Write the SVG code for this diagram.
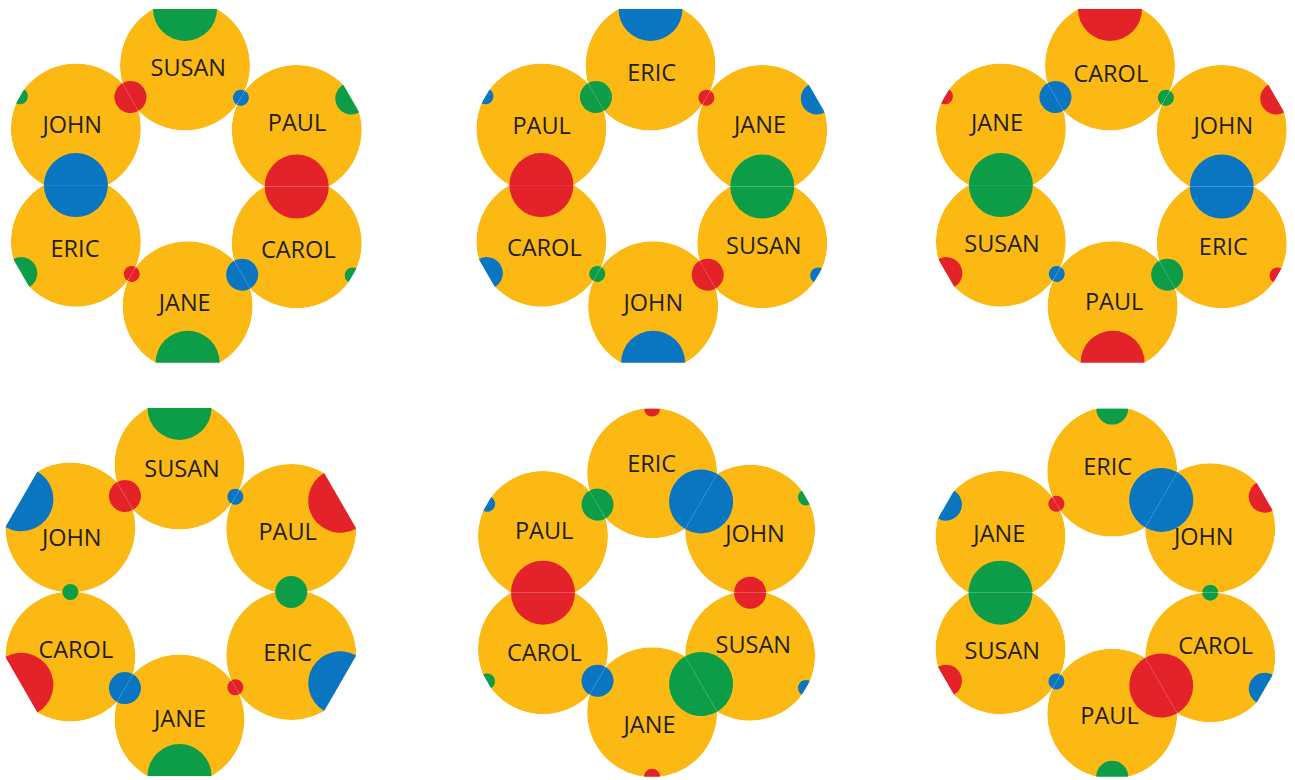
<svg xmlns="http://www.w3.org/2000/svg" width="1295" height="780" viewBox="0 0 1295 780">
<style>
.y{fill:#FDB913}
.r{fill:#E42229}
.g{fill:#0D9D48}
.b{fill:#0A76C1}
text{font-family:"Open Sans","Liberation Sans",sans-serif;font-size:23.5px;fill:#231F20;text-anchor:middle}
</style>
<defs>
<mask id="mA" maskUnits="userSpaceOnUse" x="-70" y="-70" width="140" height="140"><circle r="65" fill="#fff"/><rect transform="rotate(270)" x="56.58" y="-70" width="20" height="140"/><rect transform="rotate(30)" x="64.51" y="-70" width="20" height="140"/><rect transform="rotate(150)" x="63" y="-70" width="20" height="140"/></mask>
<mask id="mB" maskUnits="userSpaceOnUse" x="-70" y="-70" width="140" height="140"><circle r="65" fill="#fff"/><rect transform="rotate(90)" x="56.58" y="-70" width="20" height="140"/><rect transform="rotate(210)" x="64.51" y="-70" width="20" height="140"/><rect transform="rotate(330)" x="63" y="-70" width="20" height="140"/></mask>
<mask id="m4p" maskUnits="userSpaceOnUse" x="-70" y="-70" width="140" height="140"><circle r="65" fill="#fff"/><rect transform="rotate(210)" x="64.51" y="-70" width="20" height="140"/><rect transform="rotate(90)" x="63" y="-70" width="20" height="140"/><rect transform="rotate(330)" x="56.58" y="-70" width="20" height="140"/></mask>
<mask id="m4e" maskUnits="userSpaceOnUse" x="-70" y="-70" width="140" height="140"><circle r="65" fill="#fff"/><rect transform="rotate(270)" x="63" y="-70" width="20" height="140"/><rect transform="rotate(150)" x="64.51" y="-70" width="20" height="140"/><rect transform="rotate(30)" x="56.58" y="-70" width="20" height="140"/></mask>
<mask id="m4j" maskUnits="userSpaceOnUse" x="-70" y="-70" width="140" height="140"><circle r="65" fill="#fff"/><rect transform="rotate(330)" x="64.51" y="-70" width="20" height="140"/><rect transform="rotate(210)" x="63" y="-70" width="20" height="140"/><rect transform="rotate(90)" x="56.58" y="-70" width="20" height="140"/></mask>
<mask id="m4c" maskUnits="userSpaceOnUse" x="-70" y="-70" width="140" height="140"><circle r="65" fill="#fff"/><rect transform="rotate(30)" x="63" y="-70" width="20" height="140"/><rect transform="rotate(270)" x="64.51" y="-70" width="20" height="140"/><rect transform="rotate(150)" x="56.58" y="-70" width="20" height="140"/></mask>
<mask id="m4h" maskUnits="userSpaceOnUse" x="-70" y="-70" width="140" height="140"><circle r="65" fill="#fff"/><rect transform="rotate(90)" x="64.51" y="-70" width="20" height="140"/><rect transform="rotate(330)" x="63" y="-70" width="20" height="140"/><rect transform="rotate(210)" x="56.58" y="-70" width="20" height="140"/></mask>
<mask id="m5e" maskUnits="userSpaceOnUse" x="-70" y="-70" width="140" height="140"><circle r="65" fill="#fff"/><rect transform="rotate(270)" x="64.51" y="-70" width="20" height="140"/><rect transform="rotate(30)" x="56.58" y="-70" width="20" height="140"/><rect transform="rotate(150)" x="63" y="-70" width="20" height="140"/></mask>
<mask id="m5h" maskUnits="userSpaceOnUse" x="-70" y="-70" width="140" height="140"><circle r="65" fill="#fff"/><rect transform="rotate(210)" x="56.58" y="-70" width="20" height="140"/><rect transform="rotate(90)" x="63" y="-70" width="20" height="140"/><rect transform="rotate(330)" x="64.51" y="-70" width="20" height="140"/></mask>
<mask id="m5s" maskUnits="userSpaceOnUse" x="-70" y="-70" width="140" height="140"><circle r="65" fill="#fff"/><rect transform="rotate(270)" x="63" y="-70" width="20" height="140"/><rect transform="rotate(150)" x="56.58" y="-70" width="20" height="140"/><rect transform="rotate(30)" x="64.51" y="-70" width="20" height="140"/></mask>
<mask id="m5j" maskUnits="userSpaceOnUse" x="-70" y="-70" width="140" height="140"><circle r="65" fill="#fff"/><rect transform="rotate(330)" x="56.58" y="-70" width="20" height="140"/><rect transform="rotate(210)" x="63" y="-70" width="20" height="140"/><rect transform="rotate(90)" x="64.51" y="-70" width="20" height="140"/></mask>
<mask id="m5c" maskUnits="userSpaceOnUse" x="-70" y="-70" width="140" height="140"><circle r="65" fill="#fff"/><rect transform="rotate(30)" x="63" y="-70" width="20" height="140"/><rect transform="rotate(270)" x="56.58" y="-70" width="20" height="140"/><rect transform="rotate(150)" x="64.51" y="-70" width="20" height="140"/></mask>
<mask id="m6e" maskUnits="userSpaceOnUse" x="-70" y="-70" width="140" height="140"><circle r="65" fill="#fff"/><rect transform="rotate(150)" x="64.51" y="-70" width="20" height="140"/><rect transform="rotate(30)" x="56.58" y="-70" width="20" height="140"/><rect transform="rotate(270)" x="63" y="-70" width="20" height="140"/></mask>
<mask id="m6h" maskUnits="userSpaceOnUse" x="-70" y="-70" width="140" height="140"><circle r="65" fill="#fff"/><rect transform="rotate(210)" x="56.58" y="-70" width="20" height="140"/><rect transform="rotate(90)" x="64.51" y="-70" width="20" height="140"/><rect transform="rotate(330)" x="63" y="-70" width="20" height="140"/></mask>
<mask id="m6c" maskUnits="userSpaceOnUse" x="-70" y="-70" width="140" height="140"><circle r="65" fill="#fff"/><rect transform="rotate(270)" x="64.51" y="-70" width="20" height="140"/><rect transform="rotate(150)" x="56.58" y="-70" width="20" height="140"/><rect transform="rotate(30)" x="63" y="-70" width="20" height="140"/></mask>
<mask id="m6p" maskUnits="userSpaceOnUse" x="-70" y="-70" width="140" height="140"><circle r="65" fill="#fff"/><rect transform="rotate(330)" x="56.58" y="-70" width="20" height="140"/><rect transform="rotate(210)" x="64.51" y="-70" width="20" height="140"/><rect transform="rotate(90)" x="63" y="-70" width="20" height="140"/></mask>
<mask id="m6j" maskUnits="userSpaceOnUse" x="-70" y="-70" width="140" height="140"><circle r="65" fill="#fff"/><rect transform="rotate(90)" x="56.58" y="-70" width="20" height="140"/><rect transform="rotate(330)" x="64.51" y="-70" width="20" height="140"/><rect transform="rotate(210)" x="63" y="-70" width="20" height="140"/></mask>
</defs>
<rect width="1295" height="780" fill="#fff"/>

<!-- Ring 1 -->
<g id="r1-susan"><g transform="translate(185 65.5)"><g mask="url(#mA)"><circle class="y" r="65"/><circle class="g" r="32" cx="56.58" transform="rotate(270)"/><circle class="b" r="8" cx="64.51" transform="rotate(30)"/><circle class="r" r="16" cx="63" transform="rotate(150)"/></g></g><text x="188.3" y="76">SUSAN</text></g>
<g id="r1-paul"><g transform="translate(296.73 130.01)"><g mask="url(#mB)"><circle class="y" r="65"/><circle class="b" r="8" cx="64.51" transform="rotate(210)"/><circle class="r" r="32" cx="56.58" transform="rotate(90)"/><circle class="g" r="16" cx="63" transform="rotate(330)"/></g></g><text x="297" y="131">PAUL</text></g>
<g id="r1-carol"><g transform="translate(296.73 243.17)"><g mask="url(#mA)"><circle class="y" r="65"/><circle class="r" r="32" cx="56.58" transform="rotate(270)"/><circle class="b" r="16" cx="63" transform="rotate(150)"/><circle class="g" r="8" cx="64.51" transform="rotate(30)"/></g></g><text x="298.3" y="258">CAROL</text></g>
<g id="r1-jane"><g transform="translate(187.61 306.17)"><g mask="url(#mB)"><circle class="y" r="65"/><circle class="b" r="16" cx="63" transform="rotate(330)"/><circle class="r" r="8" cx="64.51" transform="rotate(210)"/><circle class="g" r="32" cx="56.58" transform="rotate(90)"/></g></g><text x="184.7" y="310.5">JANE</text></g>
<g id="r1-eric"><g transform="translate(75.88 241.66)"><g mask="url(#mA)"><circle class="y" r="65"/><circle class="r" r="8" cx="64.51" transform="rotate(30)"/><circle class="b" r="32" cx="56.58" transform="rotate(270)"/><circle class="g" r="16" cx="63" transform="rotate(150)"/></g></g><text x="75" y="256.5">ERIC</text></g>
<g id="r1-john"><g transform="translate(75.88 128.5)"><g mask="url(#mB)"><circle class="y" r="65"/><circle class="b" r="32" cx="56.58" transform="rotate(90)"/><circle class="r" r="16" cx="63" transform="rotate(330)"/><circle class="g" r="8" cx="64.51" transform="rotate(210)"/></g></g><text x="72.2" y="132.8">JOHN</text></g>

<!-- Ring 2 -->
<g id="r2-eric"><g transform="translate(650.5 65.5)"><g mask="url(#mA)"><circle class="y" r="65"/><circle class="b" r="32" cx="56.58" transform="rotate(270)"/><circle class="r" r="8" cx="64.51" transform="rotate(30)"/><circle class="g" r="16" cx="63" transform="rotate(150)"/></g></g><text x="651.7" y="81">ERIC</text></g>
<g id="r2-jane"><g transform="translate(762.23 130.01)"><g mask="url(#mB)"><circle class="y" r="65"/><circle class="r" r="8" cx="64.51" transform="rotate(210)"/><circle class="g" r="32" cx="56.58" transform="rotate(90)"/><circle class="b" r="16" cx="63" transform="rotate(330)"/></g></g><text x="760" y="132.8">JANE</text></g>
<g id="r2-susan"><g transform="translate(762.23 243.17)"><g mask="url(#mA)"><circle class="y" r="65"/><circle class="g" r="32" cx="56.58" transform="rotate(270)"/><circle class="r" r="16" cx="63" transform="rotate(150)"/><circle class="b" r="8" cx="64.51" transform="rotate(30)"/></g></g><text x="763.8" y="253.8">SUSAN</text></g>
<g id="r2-john"><g transform="translate(653.11 306.17)"><g mask="url(#mB)"><circle class="y" r="65"/><circle class="r" r="16" cx="63" transform="rotate(330)"/><circle class="g" r="8" cx="64.51" transform="rotate(210)"/><circle class="b" r="32" cx="56.58" transform="rotate(90)"/></g></g><text x="653.3" y="310.5">JOHN</text></g>
<g id="r2-carol"><g transform="translate(541.38 241.66)"><g mask="url(#mA)"><circle class="y" r="65"/><circle class="g" r="8" cx="64.51" transform="rotate(30)"/><circle class="r" r="32" cx="56.58" transform="rotate(270)"/><circle class="b" r="16" cx="63" transform="rotate(150)"/></g></g><text x="544.3" y="255.5">CAROL</text></g>
<g id="r2-paul"><g transform="translate(541.38 128.5)"><g mask="url(#mB)"><circle class="y" r="65"/><circle class="r" r="32" cx="56.58" transform="rotate(90)"/><circle class="g" r="16" cx="63" transform="rotate(330)"/><circle class="b" r="8" cx="64.51" transform="rotate(210)"/></g></g><text x="541.7" y="133.8">PAUL</text></g>

<!-- Ring 3 -->
<g id="r3-carol"><g transform="translate(1110 65.5)"><g mask="url(#mA)"><circle class="y" r="65"/><circle class="r" r="32" cx="56.58" transform="rotate(270)"/><circle class="g" r="8" cx="64.51" transform="rotate(30)"/><circle class="b" r="16" cx="63" transform="rotate(150)"/></g></g><text x="1110.8" y="81.5">CAROL</text></g>
<g id="r3-john"><g transform="translate(1221.73 130.01)"><g mask="url(#mB)"><circle class="y" r="65"/><circle class="g" r="8" cx="64.51" transform="rotate(210)"/><circle class="b" r="32" cx="56.58" transform="rotate(90)"/><circle class="r" r="16" cx="63" transform="rotate(330)"/></g></g><text x="1223.3" y="133.8">JOHN</text></g>
<g id="r3-eric"><g transform="translate(1221.73 243.17)"><g mask="url(#mA)"><circle class="y" r="65"/><circle class="b" r="32" cx="56.58" transform="rotate(270)"/><circle class="g" r="16" cx="63" transform="rotate(150)"/><circle class="r" r="8" cx="64.51" transform="rotate(30)"/></g></g><text x="1223.3" y="254.5">ERIC</text></g>
<g id="r3-paul"><g transform="translate(1112.61 306.17)"><g mask="url(#mB)"><circle class="y" r="65"/><circle class="g" r="16" cx="63" transform="rotate(330)"/><circle class="b" r="8" cx="64.51" transform="rotate(210)"/><circle class="r" r="32" cx="56.58" transform="rotate(90)"/></g></g><text x="1114.2" y="309.8">PAUL</text></g>
<g id="r3-susan"><g transform="translate(1000.88 241.66)"><g mask="url(#mA)"><circle class="y" r="65"/><circle class="b" r="8" cx="64.51" transform="rotate(30)"/><circle class="g" r="32" cx="56.58" transform="rotate(270)"/><circle class="r" r="16" cx="63" transform="rotate(150)"/></g></g><text x="1002" y="252.2">SUSAN</text></g>
<g id="r3-jane"><g transform="translate(1000.88 128.5)"><g mask="url(#mB)"><circle class="y" r="65"/><circle class="g" r="32" cx="56.58" transform="rotate(90)"/><circle class="b" r="16" cx="63" transform="rotate(330)"/><circle class="r" r="8" cx="64.51" transform="rotate(210)"/></g></g><text x="997" y="130.5">JANE</text></g>

<!-- Ring 4 -->
<g id="r4-susan"><g transform="translate(179.5 464.5)"><g mask="url(#mA)"><circle class="y" r="65"/><circle class="g" r="32" cx="56.58" transform="rotate(270)"/><circle class="b" r="8" cx="64.51" transform="rotate(30)"/><circle class="r" r="16" cx="63" transform="rotate(150)"/></g></g><text x="182" y="476.5">SUSAN</text></g>
<g id="r4-paul"><g transform="translate(291.23 529.01)"><g mask="url(#m4p)"><circle class="y" r="65"/><circle class="b" r="8" cx="64.51" transform="rotate(210)"/><circle class="g" r="16" cx="63" transform="rotate(90)"/><circle class="r" r="32" cx="56.58" transform="rotate(330)"/></g></g><text x="287.7" y="539.8">PAUL</text></g>
<g id="r4-eric"><g transform="translate(291.23 655.01)"><g mask="url(#m4e)"><circle class="y" r="65"/><circle class="g" r="16" cx="63" transform="rotate(270)"/><circle class="r" r="8" cx="64.51" transform="rotate(150)"/><circle class="b" r="32" cx="56.58" transform="rotate(30)"/></g></g><text x="287.7" y="660.5">ERIC</text></g>
<g id="r4-jane"><g transform="translate(179.5 719.52)"><g mask="url(#m4j)"><circle class="y" r="65"/><circle class="r" r="8" cx="64.51" transform="rotate(330)"/><circle class="b" r="16" cx="63" transform="rotate(210)"/><circle class="g" r="32" cx="56.58" transform="rotate(90)"/></g></g><text x="180" y="726.5">JANE</text></g>
<g id="r4-carol"><g transform="translate(70.38 656.52)"><g mask="url(#m4c)"><circle class="y" r="65"/><circle class="b" r="16" cx="63" transform="rotate(30)"/><circle class="g" r="8" cx="64.51" transform="rotate(270)"/><circle class="r" r="32" cx="56.58" transform="rotate(150)"/></g></g><text x="75.8" y="657.8">CAROL</text></g>
<g id="r4-john"><g transform="translate(70.38 527.5)"><g mask="url(#m4h)"><circle class="y" r="65"/><circle class="g" r="8" cx="64.51" transform="rotate(90)"/><circle class="r" r="16" cx="63" transform="rotate(330)"/><circle class="b" r="32" cx="56.58" transform="rotate(210)"/></g></g><text x="71.7" y="546.2">JOHN</text></g>

<!-- Ring 5 -->
<g id="r5-eric"><g transform="translate(652.1 473.1)"><g mask="url(#m5e)"><circle class="y" r="65"/><circle class="r" r="8" cx="64.51" transform="rotate(270)"/><circle class="b" r="32" cx="56.58" transform="rotate(30)"/><circle class="g" r="16" cx="63" transform="rotate(150)"/></g></g><text x="651.7" y="472.2">ERIC</text></g>
<g id="r5-john"><g transform="translate(750.1 529.68)"><g mask="url(#m5h)"><circle class="y" r="65"/><circle class="b" r="32" cx="56.58" transform="rotate(210)"/><circle class="r" r="16" cx="63" transform="rotate(90)"/><circle class="g" r="8" cx="64.51" transform="rotate(330)"/></g></g><text x="755" y="542.2">JOHN</text></g>
<g id="r5-susan"><g transform="translate(750.1 655.68)"><g mask="url(#m5s)"><circle class="y" r="65"/><circle class="r" r="16" cx="63" transform="rotate(270)"/><circle class="g" r="32" cx="56.58" transform="rotate(150)"/><circle class="b" r="8" cx="64.51" transform="rotate(30)"/></g></g><text x="753.3" y="652.8">SUSAN</text></g>
<g id="r5-jane"><g transform="translate(652.1 712.26)"><g mask="url(#m5j)"><circle class="y" r="65"/><circle class="g" r="32" cx="56.58" transform="rotate(330)"/><circle class="b" r="16" cx="63" transform="rotate(210)"/><circle class="r" r="8" cx="64.51" transform="rotate(90)"/></g></g><text x="649.5" y="732.8">JANE</text></g>
<g id="r5-carol"><g transform="translate(542.98 649.26)"><g mask="url(#m5c)"><circle class="y" r="65"/><circle class="b" r="16" cx="63" transform="rotate(30)"/><circle class="r" r="32" cx="56.58" transform="rotate(270)"/><circle class="g" r="8" cx="64.51" transform="rotate(150)"/></g></g><text x="544.3" y="661.2">CAROL</text></g>
<g id="r5-paul"><g transform="translate(542.98 536.1)"><g mask="url(#mB)"><circle class="y" r="65"/><circle class="r" r="32" cx="56.58" transform="rotate(90)"/><circle class="g" r="16" cx="63" transform="rotate(330)"/><circle class="b" r="8" cx="64.51" transform="rotate(210)"/></g></g><text x="544.2" y="538.8">PAUL</text></g>

<!-- Ring 6 -->
<g id="r6-eric"><g transform="translate(1112.23 471.59)"><g mask="url(#m6e)"><circle class="y" r="65"/><circle class="r" r="8" cx="64.51" transform="rotate(150)"/><circle class="b" r="32" cx="56.58" transform="rotate(30)"/><circle class="g" r="16" cx="63" transform="rotate(270)"/></g></g><text x="1107.7" y="474.5">ERIC</text></g>
<g id="r6-john"><g transform="translate(1210.23 528.17)"><g mask="url(#m6h)"><circle class="y" r="65"/><circle class="b" r="32" cx="56.58" transform="rotate(210)"/><circle class="g" r="8" cx="64.51" transform="rotate(90)"/><circle class="r" r="16" cx="63" transform="rotate(330)"/></g></g><text x="1203.7" y="544.5">JOHN</text></g>
<g id="r6-carol"><g transform="translate(1210.23 657.19)"><g mask="url(#m6c)"><circle class="y" r="65"/><circle class="g" r="8" cx="64.51" transform="rotate(270)"/><circle class="r" r="32" cx="56.58" transform="rotate(150)"/><circle class="b" r="16" cx="63" transform="rotate(30)"/></g></g><text x="1215.7" y="653.8">CAROL</text></g>
<g id="r6-paul"><g transform="translate(1112.23 713.77)"><g mask="url(#m6p)"><circle class="y" r="65"/><circle class="r" r="32" cx="56.58" transform="rotate(330)"/><circle class="b" r="8" cx="64.51" transform="rotate(210)"/><circle class="g" r="16" cx="63" transform="rotate(90)"/></g></g><text x="1109.5" y="723.8">PAUL</text></g>
<g id="r6-susan"><g transform="translate(1000.5 649.26)"><g mask="url(#mA)"><circle class="y" r="65"/><circle class="b" r="8" cx="64.51" transform="rotate(30)"/><circle class="g" r="32" cx="56.58" transform="rotate(270)"/><circle class="r" r="16" cx="63" transform="rotate(150)"/></g></g><text x="1002.3" y="658.8">SUSAN</text></g>
<g id="r6-jane"><g transform="translate(1000.5 536.1)"><g mask="url(#m6j)"><circle class="y" r="65"/><circle class="g" r="32" cx="56.58" transform="rotate(90)"/><circle class="r" r="8" cx="64.51" transform="rotate(330)"/><circle class="b" r="16" cx="63" transform="rotate(210)"/></g></g><text x="999.3" y="541.5">JANE</text></g>
</svg>
